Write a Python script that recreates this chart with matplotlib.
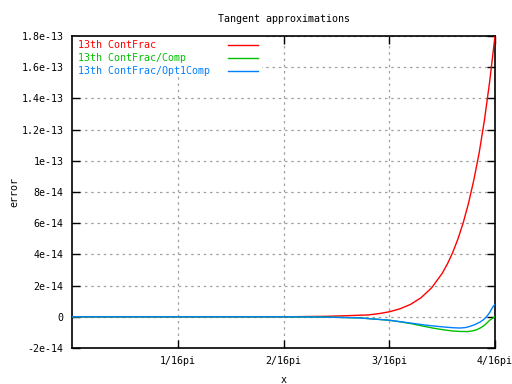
import numpy as np
import matplotlib
matplotlib.use("Agg")
import matplotlib.pyplot as plt
from matplotlib.lines import Line2D
from matplotlib.patches import Rectangle

# x positions in units of pi/16
red_u = [0.0, 1.0, 2.0, 2.4, 2.6, 2.8, 2.9, 3.0, 3.1, 3.2, 3.3, 3.4, 3.5, 3.55, 3.6, 3.65,
         3.7, 3.75, 3.8, 3.85, 3.9, 3.95, 4.0]
red_v = [0.0, 0.0, 0.0, 0.3e-15, 0.7e-15, 1.2e-15, 2.0e-15, 3.2e-15, 5.1e-15, 7.9e-15,
         1.22e-14, 1.85e-14, 2.78e-14, 3.39e-14, 4.12e-14, 5.0e-14, 6.04e-14, 7.29e-14,
         8.78e-14, 1.05e-13, 1.26e-13, 1.51e-13, 1.8e-13]

green_u = [0.0, 1.0, 2.0, 2.4, 2.72, 2.85, 3.0, 3.1, 3.2, 3.3, 3.41, 3.5, 3.6, 3.67, 3.74,
           3.79, 3.83, 3.86, 3.89, 3.92, 3.95, 3.98, 4.0]
green_v = [0.0, 0.0, 0.0, -0.2e-15, -0.7e-15, -1.4e-15, -2.2e-15, -3.2e-15, -4.3e-15,
           -5.7e-15, -7.2e-15, -8.2e-15, -9.1e-15, -9.4e-15, -9.5e-15, -9.0e-15, -8.2e-15,
           -7.2e-15, -5.9e-15, -4.2e-15, -2.2e-15, -0.8e-15, 0.0]

blue_u = [0.0, 1.0, 2.0, 2.4, 2.72, 2.85, 3.0, 3.1, 3.2, 3.35, 3.51, 3.6, 3.67, 3.72, 3.76,
          3.81, 3.86, 3.89, 3.92, 3.95, 3.98, 4.0]
blue_v = [0.0, 0.0, 0.0, -0.2e-15, -0.7e-15, -1.4e-15, -2.2e-15, -3.1e-15, -4.0e-15,
          -5.4e-15, -6.5e-15, -7.0e-15, -7.2e-15, -6.9e-15, -6.2e-15, -5.0e-15, -3.3e-15,
          -1.9e-15, 0.0, 2.8e-15, 6.4e-15, 8.0e-15]

series_labels = ["13th ContFrac", "13th ContFrac/Comp", "13th ContFrac/Opt1Comp"]
series_colors = ["#ff0000", "#00c000", "#0080ff"]

xtick_u = [1, 2, 3, 4]
xtick_labels = ["1/16pi", "2/16pi", "3/16pi", "4/16pi"]
yticks = np.arange(-2e-14, 1.8e-13 + 1e-15, 2e-14)
ytick_labels = ["-2e-14", "0", "2e-14", "4e-14", "6e-14", "8e-14", "1e-13",
                "1.2e-13", "1.4e-13", "1.6e-13", "1.8e-13"]

FONT = "DejaVu Sans Mono"
FS = 7.2
plt.rcParams["font.family"] = [FONT]

fig = plt.figure(figsize=(5.12, 3.84), dpi=100)
ax = fig.add_axes([72/512, 1-348/384, (495-72)/512, (348-36)/384])

k = np.pi / 16
for u, v, c in zip([red_u, green_u, blue_u], [red_v, green_v, blue_v], series_colors):
    ax.plot(np.array(u) * k, v, color=c, lw=1.0, zorder=3)

ax.set_xlim(0, np.pi / 4)
ax.set_ylim(-2e-14, 1.8e-13)
ax.set_xticks(np.array(xtick_u) * k)
ax.set_xticklabels(xtick_labels, fontsize=FS)
ax.set_yticks(yticks)
ax.set_yticklabels(ytick_labels, fontsize=FS)
ax.tick_params(direction="in", length=6, width=1, top=True, right=True, pad=6)
ax.grid(True, color="#a0a0a0", linestyle=(0, (2, 3)), lw=0.9)
for s in ax.spines.values():
    s.set_linewidth(1.2)

ax.set_title("Tangent approximations", fontsize=FS, pad=10)
ax.set_xlabel("x", fontsize=FS, labelpad=6)
ax.set_ylabel("error", fontsize=FS, labelpad=2)

# legend box (gnuplot style: text then sample line)
ax.add_patch(Rectangle((0.0, 1 - 39/312), 190/423, 39/312, transform=ax.transAxes,
                       facecolor="white", edgecolor="none", zorder=2.5))
for i, (lab, c) in enumerate(zip(series_labels, series_colors)):
    yy = 1 - (9 + 13 * i) / 312
    ax.text(6/423, yy, lab, color=c, fontsize=FS, transform=ax.transAxes,
            va="center", ha="left", zorder=4)
    ax.add_line(Line2D([156/423, 186/423], [yy, yy], color=c, lw=1.0,
                       transform=ax.transAxes, zorder=4))

fig.savefig("out.png", dpi=100)
